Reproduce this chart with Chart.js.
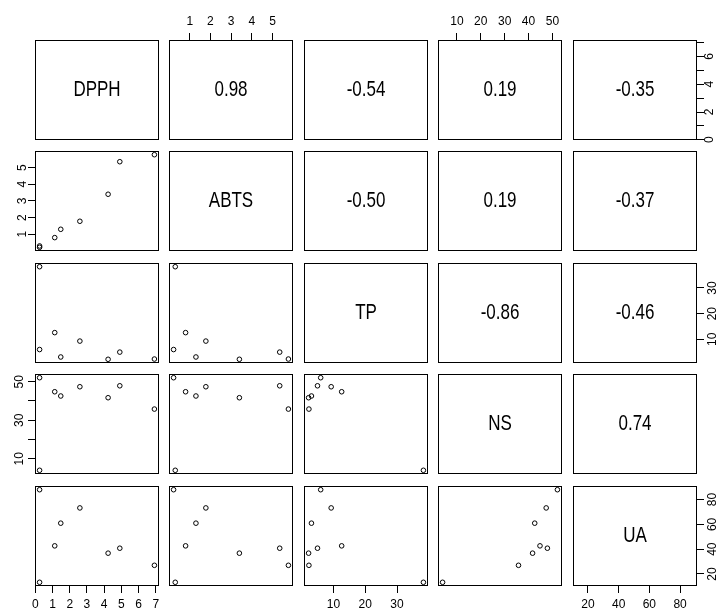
<!DOCTYPE html>
<html>
<head>
<meta charset="utf-8">
<script src="https://cdn.jsdelivr.net/npm/chart.js@4.4.1/dist/chart.umd.min.js"></script>
<style>
	html, body { margin: 0; padding: 0; background: #fff; }
	body { width: 721px; height: 610px; overflow: hidden; position: relative; }
	canvas { position: absolute; }
	.etiqueta {
		position: absolute;
		display: flex;
		align-items: center;
		justify-content: center;
		font-family: 'Liberation Sans', Arial, sans-serif;
		font-size: 17px;
		color: #000;
	}
	.etiqueta span { display: inline-block; transform: scaleY(1.25); }
</style>
</head>
<body>
<script>
// --- DATOS --- //
const variables = ['DPPH', 'ABTS', 'TP', 'NS', 'UA'];

const dpph = [0.25, 1.13, 1.48, 2.59, 4.23, 4.91, 6.92, 0.25];
const abts = [0.22, 0.80, 1.30, 1.78, 3.40, 5.35, 5.77, 0.30];
const tp = [6.0, 12.6, 3.1, 9.3, 2.2, 5.0, 2.3, 38.3];
const ns = [52.1, 44.8, 42.6, 47.4, 41.7, 47.9, 35.8, 4.0];
const ua = [88.0, 42.7, 61.0, 73.3, 36.8, 40.8, 27.0, 13.3];

// correlaciones del panel superior [fila][columna]
const correlaciones = [
	[null, '0.98', '-0.54', '0.19', '-0.35'],
	[null, null, '-0.50', '0.19', '-0.37'],
	[null, null, null, '-0.86', '-0.46'],
	[null, null, null, null, '0.74'],
	[null, null, null, null, null],
];

// marcas de los ejes
const dpphTicks = [0, 1, 2, 3, 4, 5, 6, 7];
const abtsTicks = [1, 2, 3, 4, 5];
const tpTicks = [10, 20, 30];
const nsTicks = [10, 20, 30, 40, 50];
const uaTicks = [20, 40, 60, 80];

// etiquetas de los ejes horizontales
const dpphXLabels = ['0', '1', '2', '3', '4', '5', '6', '7'];
const abtsXLabels = ['1', '2', '3', '4', '5'];
const tpXLabels = ['10', '20', '30'];
const nsXLabels = ['10', '20', '30', '40', '50'];
const uaXLabels = ['20', '40', '60', '80'];

// etiquetas de los ejes verticales (R omite algunas)
const dpphYLabels = ['0', '', '2', '', '4', '', '6', ''];
const abtsYLabels = ['1', '2', '3', '4', '5'];
const tpYLabels = ['10', '20', '30'];
const nsYLabels = ['10', '', '30', '', '50'];
const uaYLabels = ['20', '40', '60', '80'];

const columnas = [dpph, abts, tp, ns, ua];
const marcas = [dpphTicks, abtsTicks, tpTicks, nsTicks, uaTicks];
const etiquetasX = [dpphXLabels, abtsXLabels, tpXLabels, nsXLabels, uaXLabels];
const etiquetasY = [dpphYLabels, abtsYLabels, tpYLabels, nsYLabels, uaYLabels];

// --- DISPOSICION --- //
const lefts = [35, 169, 304, 438, 573];
const tops = [40, 151, 263, 374, 486];
const ancho = 124;
const alto = 100;
const M = 40;
const fuente = "'Liberation Sans', Arial, sans-serif";

function rango(valores) {
	const min = Math.min(...valores);
	const max = Math.max(...valores);
	const pad = (max - min) * 0.04;
	return { min: min - pad, max: max + pad };
}

const caja = {
	id: 'caja',
	afterDraw(chart) {
		const { ctx, chartArea } = chart;
		ctx.save();
		ctx.strokeStyle = '#000';
		ctx.lineWidth = 1;
		ctx.strokeRect(
			Math.round(chartArea.left) + 0.5,
			Math.round(chartArea.top) + 0.5,
			Math.round(chartArea.right - chartArea.left) - 1,
			Math.round(chartArea.bottom - chartArea.top) - 1
		);
		ctx.restore();
	},
};

function escala(i, horizontal, posicion, visible) {
	const r = rango(columnas[i]);
	const valores = marcas[i];
	const etiquetas = horizontal ? etiquetasX[i] : etiquetasY[i];
	const opciones = {
		type: 'linear',
		position: posicion,
		display: visible,
		min: r.min,
		max: r.max,
		afterBuildTicks: (s) => {
			s.ticks = valores.map((v) => ({ value: v }));
		},
		ticks: {
			autoSkip: false,
			color: '#000',
			font: { family: fuente, size: 12 },
			padding: horizontal ? 4 : 2,
			minRotation: horizontal ? 0 : 90,
			maxRotation: horizontal ? 0 : 90,
			callback: (v) => etiquetas[valores.indexOf(v)],
		},
		grid: {
			display: true,
			drawOnChartArea: false,
			drawTicks: true,
			tickLength: 7,
			color: '#000',
			lineWidth: 1,
		},
		border: { display: false },
	};
	if (!horizontal) opciones.ticks.crossAlign = 'center';
	if (visible) {
		opciones.afterFit = (s) => {
			if (horizontal) s.height = M;
			else s.width = M;
		};
	}
	return opciones;
}

for (let f = 0; f < 5; f++) {
	for (let c = 0; c < 5; c++) {
		const canvas = document.createElement('canvas');
		canvas.width = ancho + 2 * M;
		canvas.height = alto + 2 * M;
		canvas.style.left = lefts[c] - M + 'px';
		canvas.style.top = tops[f] - M + 'px';
		document.body.appendChild(canvas);

		const posX = c % 2 === 1 ? 'top' : 'bottom';
		const verX = (c % 2 === 1 && f === 0) || (c % 2 === 0 && f === 4);
		const posY = f % 2 === 1 ? 'left' : 'right';
		const verY = (f % 2 === 1 && c === 0) || (f % 2 === 0 && c === 4);

		const puntos = [];
		if (f > c) {
			columnas[c].forEach((x, k) => {
				puntos.push({ x: x, y: columnas[f][k] });
			});
		}

		new Chart(canvas, {
			type: 'scatter',
			data: {
				datasets: [
					{
						data: puntos,
						pointStyle: 'circle',
						pointRadius: 2.3,
						borderWidth: 1,
						borderColor: '#000',
						backgroundColor: 'rgba(0,0,0,0)',
					},
				],
			},
			options: {
				responsive: false,
				animation: false,
				events: [],
				layout: {
					padding: {
						top: verX && posX === 'top' ? 0 : M,
						bottom: verX && posX === 'bottom' ? 0 : M,
						left: verY && posY === 'left' ? 0 : M,
						right: verY && posY === 'right' ? 0 : M,
					},
				},
				scales: {
					x: escala(c, true, posX, verX),
					y: escala(f, false, posY, verY),
				},
				plugins: {
					legend: { display: false },
					tooltip: { enabled: false },
				},
			},
			plugins: [caja],
		});

		// texto del panel diagonal y superior
		let texto = null;
		if (f === c) texto = variables[f];
		else if (f < c) texto = correlaciones[f][c];
		if (texto) {
			const div = document.createElement('div');
			div.className = 'etiqueta';
			div.style.left = lefts[c] + 'px';
			div.style.top = tops[f] + 'px';
			div.style.width = ancho + 'px';
			div.style.height = alto + 'px';
			div.innerHTML = '<span>' + texto + '</span>';
			document.body.appendChild(div);
		}
	}
}
</script>
</body>
</html>
